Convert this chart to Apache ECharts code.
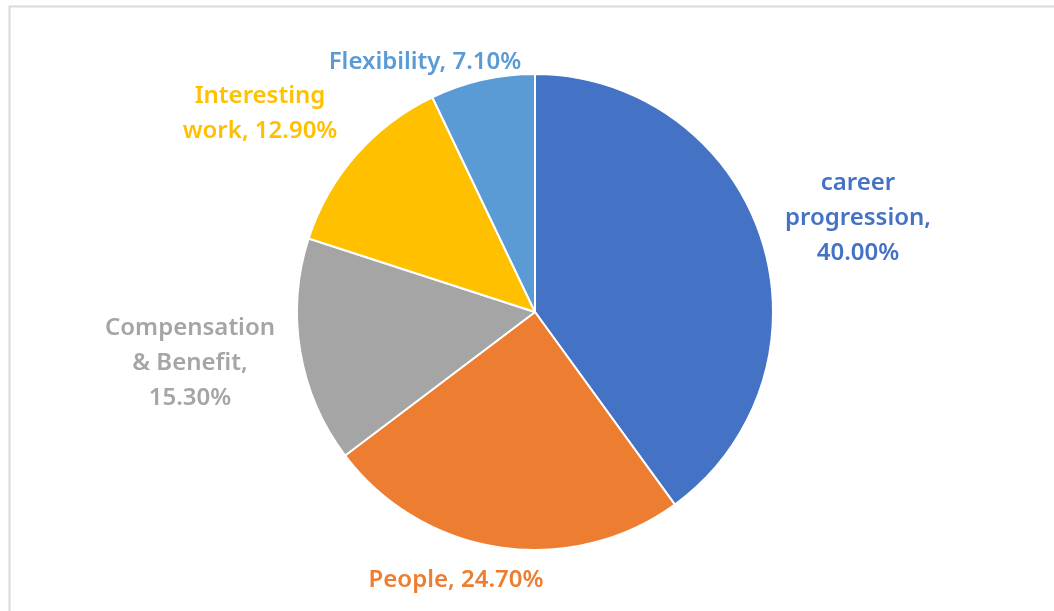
<!DOCTYPE html>
<html><head><meta charset="utf-8">
<script src="https://cdn.jsdelivr.net/npm/echarts@6/dist/echarts.min.js"></script>
<style>html,body{margin:0;padding:0;background:#fff}#c{width:1054px;height:611px}</style>
</head><body><div id="c"></div>
<script>
const categories = ['career progression', 'People', 'Compensation & Benefit', 'Interesting work', 'Flexibility'];
const values = [40.0, 24.7, 15.3, 12.9, 7.1];
const labelLines = [['career', 'progression,'], ['People,'], ['Compensation', '& Benefit,'], ['Interesting', 'work,'], ['Flexibility,']];
const colors = ['#4472C4', '#ED7D31', '#A5A5A5', '#FFC000', '#5B9BD5'];

const labelPos = [[858, 218], [456, 580], [190, 363], [260, 114], [425, 62]];

const chart = echarts.init(document.getElementById('c'));
chart.setOption({
  animation: false,
  graphic: [{type: 'rect', shape: {x: 9.5, y: 6.5, width: 1100, height: 700}, style: {fill: 'none', stroke: '#d9d9d9', lineWidth: 2}}],
  series: [{
    type: 'pie',
    center: [535, 312],
    radius: 238,
    startAngle: 90,
    clockwise: true,
    data: categories.map((c, i) => ({name: c, value: values[i], itemStyle: {color: colors[i]}, label: {color: colors[i]}})),
    itemStyle: {borderColor: '#fff', borderWidth: 2},
    label: {
      show: true,
      position: 'outside',
      fontFamily: 'Noto Sans',
      fontSize: 24,
      fontWeight: 600,
      lineHeight: 35,
      align: 'center',
      formatter: p => {
        const lines = labelLines[p.dataIndex];
        const v = p.value.toFixed(2) + '%';
        if (lines.length === 1) return lines[0] + ' ' + v;
        if (p.dataIndex === 3) return lines[0] + '\n' + lines[1] + ' ' + v;
        return lines.join('\n') + '\n' + v;
      }
    },
    labelLine: {show: false},
    labelLayout: p => ({x: labelPos[p.dataIndex][0], y: labelPos[p.dataIndex][1], align: 'center', verticalAlign: 'middle'})
  }]
});
</script></body></html>
